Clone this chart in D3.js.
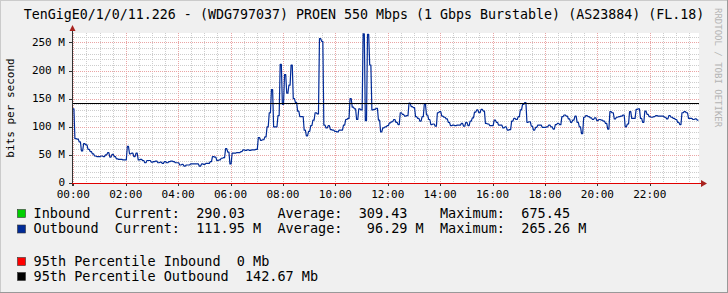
<!DOCTYPE html>
<html>
<head>
<meta charset="utf-8">
<script src="https://cdn.jsdelivr.net/npm/d3@7"></script>
<style>
html, body { margin: 0; padding: 0; background: #f0f0f0; }
svg { display: block; font-family: "DejaVu Sans Mono", monospace; }
text { white-space: pre; }
</style>
</head>
<body>
<div class="chart"></div>
<script>
// outbound traffic in Mbit/s, one value every 5 minutes starting 00:00
const stepMinutes = 5;
const outboundNight = [132, 79, 78, 73, 57, 70, 68, 60, 56, 52, 48, 47, 47, 48, 47, 50, 54, 46, 51, 47, 43, 42, 42, 41,
    41, 65, 52, 53, 47, 53, 41, 42, 40, 36, 40, 40, 37, 38, 39, 36, 37, 35, 38, 36, 38, 39, 38, 36];
const outboundMorning = [36, 32, 33, 30, 32, 32, 34, 34, 34, 34, 30, 34, 33, 35, 35, 38, 47, 46, 40, 41, 44, 45, 61, 55,
    34, 53, 53, 54, 54, 56, 59, 58, 59, 58, 59, 59, 60, 81, 76, 77, 82, 100, 125, 166, 100, 100, 120, 211];
const outboundMidday = [140, 193, 160, 174, 210, 150, 143, 128, 118, 118, 94, 84, 92, 102, 112, 125, 123, 257, 252, 103, 98, 102, 95, 94,
    92, 91, 94, 94, 103, 113, 115, 150, 135, 132, 113, 132, 130, 265.26, 111, 264.5, 210, 130, 131, 133, 112, 91, 98, 100];
const outboundAfternoon = [102, 107, 109, 113, 108, 104, 125, 122, 119, 120, 142, 136, 134, 118, 115, 110, 118, 140, 121, 113, 104, 105, 101, 125,
    127, 119, 117, 114, 108, 102, 103, 102, 103, 103, 106, 101, 108, 102, 110, 116, 126, 130, 125, 131, 128, 106, 105, 102];
const outboundEvening = [102, 112, 108, 103, 103, 98, 100, 94, 95, 110, 115, 113, 118, 130, 140, 143, 108, 109, 101, 94, 99, 103, 103, 99,
    99, 100, 103, 100, 96, 104, 106, 104, 118, 121, 119, 114, 108, 112, 119, 108, 100, 88, 117, 120, 118, 116, 113, 116];
const outboundLate = [111, 113, 112, 110, 106, 96, 127, 125, 114, 117, 118, 119, 121, 100, 105, 127, 115, 115, 131, 132, 115, 108, 128, 122,
    118, 117, 118, 120, 119, 119, 119, 117, 114, 120, 117, 115, 113, 108, 104, 125, 127, 125, 115, 115, 113, 114, 111.95];

const percentileInbound = 0;
const percentileOutbound = 142.67;

const yTicks = [0, 50, 100, 150, 200, 250];
const yTickLabels = ["0", "50 M", "100 M", "150 M", "200 M", "250 M"];
const xTickHours = [0, 2, 4, 6, 8, 10, 12, 14, 16, 18, 20, 22];

const inboundStats = ["290.03", "309.43", "675.45"];
const outboundStats = ["111.95 M", "96.29 M", "265.26 M"];

const title = "TenGigE0/1/0/11.226 - (WDG797037) PROEN 550 Mbps (1 Gbps Burstable) (AS23884) (FL.18)";

const width = 728, height = 293;
const plot = { left: 72, right: 699, top: 33, bottom: 183 };

const outbound = [].concat(outboundNight, outboundMorning, outboundMidday, outboundAfternoon, outboundEvening, outboundLate)
    .map((v, i) => ({ t: i * stepMinutes, v: v }));

const x = d3.scaleLinear().domain([-3, 1437]).range([72, 700.9]);
const y = d3.scaleLinear().domain([0, 266.9]).range([plot.bottom, plot.top]);

const svg = d3.select(".chart").append("svg")
    .attr("width", width)
    .attr("height", height);

// background + 3d frame
svg.append("rect").attr("width", width).attr("height", height).attr("fill", "#f0f0f0");
svg.append("path").attr("d", `M0,${height} V0 H${width}`).attr("fill", "none").attr("stroke", "#cbcbcb").attr("stroke-width", 2);
svg.append("path").attr("d", `M${width},0 V${height} H0`).attr("fill", "none").attr("stroke", "#999").attr("stroke-width", 2);

svg.append("rect")
    .attr("x", plot.left).attr("y", plot.top)
    .attr("width", plot.right - plot.left).attr("height", plot.bottom - plot.top)
    .attr("fill", "#fff");

const grid = svg.append("g").attr("shape-rendering", "crispEdges");

// minor grid
const minorX = d3.range(30, 1440, 30).filter(m => m % 120 !== 0);
grid.selectAll(".vminor").data(minorX).enter().append("line")
    .attr("x1", d => Math.round(x(d)) + 0.5).attr("x2", d => Math.round(x(d)) + 0.5)
    .attr("y1", plot.top).attr("y2", plot.bottom)
    .attr("stroke", "#cdcdcd").attr("stroke-dasharray", "1,1");
const minorY = d3.range(10, 266, 10).filter(v => v % 50 !== 0);
grid.selectAll(".hminor").data(minorY).enter().append("line")
    .attr("x1", plot.left).attr("x2", plot.right)
    .attr("y1", d => Math.round(y(d)) + 0.5).attr("y2", d => Math.round(y(d)) + 0.5)
    .attr("stroke", "#cdcdcd").attr("stroke-dasharray", "1,1");

// major grid
grid.selectAll(".vmajor").data(xTickHours).enter().append("line")
    .attr("x1", d => Math.round(x(d * 60)) + 0.5).attr("x2", d => Math.round(x(d * 60)) + 0.5)
    .attr("y1", plot.top).attr("y2", plot.bottom)
    .attr("stroke", "#eaa5a5").attr("stroke-dasharray", "1,1");
grid.selectAll(".hmajor").data(yTicks.slice(1)).enter().append("line")
    .attr("x1", plot.left).attr("x2", plot.right)
    .attr("y1", d => Math.round(y(d)) + 0.5).attr("y2", d => Math.round(y(d)) + 0.5)
    .attr("stroke", "#eaa5a5").attr("stroke-dasharray", "1,1");

// outbound line: each 5-minute sample holds for most of its slot, like rrdtool's per-pixel drawing
const half = stepMinutes * 0.27;
const line = d3.line()
    .x(d => x(d.t))
    .y(d => y(d.v));
svg.append("path")
    .datum(outbound.flatMap(d => [{ t: d.t - half, v: d.v }, { t: d.t + half, v: d.v }]))
    .attr("fill", "none")
    .attr("stroke", "#002a97")
    .attr("stroke-width", 1.2)
    .attr("stroke-linejoin", "round")
    .attr("d", line);

// 95th percentile outbound
svg.append("line")
    .attr("x1", plot.left).attr("x2", plot.right)
    .attr("y1", Math.round(y(percentileOutbound)) + 0.5).attr("y2", Math.round(y(percentileOutbound)) + 0.5)
    .attr("stroke", "#000").attr("shape-rendering", "crispEdges");

// axes
const axisG = svg.append("g").attr("shape-rendering", "crispEdges").attr("stroke", "#333");
axisG.append("line").attr("x1", plot.left + 0.5).attr("x2", plot.left + 0.5).attr("y1", plot.bottom + 3).attr("y2", 29);
axisG.append("line").attr("x1", plot.left - 3).attr("x2", 703).attr("y1", plot.bottom + 0.5).attr("y2", plot.bottom + 0.5);
axisG.selectAll(".ytick").data(yTicks).enter().append("line")
    .attr("x1", plot.left - 3).attr("x2", plot.left)
    .attr("y1", d => Math.round(y(d)) + 0.5).attr("y2", d => Math.round(y(d)) + 0.5);
axisG.selectAll(".xtick").data(xTickHours).enter().append("line")
    .attr("x1", d => Math.round(x(d * 60)) + 0.5).attr("x2", d => Math.round(x(d * 60)) + 0.5)
    .attr("y1", plot.bottom).attr("y2", plot.bottom + 3);

// 95th percentile inbound (sits on the zero line)
svg.append("line")
    .attr("x1", plot.left).attr("x2", 703)
    .attr("y1", Math.round(y(percentileInbound)) + 0.5).attr("y2", Math.round(y(percentileInbound)) + 0.5)
    .attr("stroke", "#e00000").attr("shape-rendering", "crispEdges");

svg.append("path").attr("d", `M${plot.left - 2.5},31 L${plot.left + 0.5},25 L${plot.left + 3.5},31 Z`).attr("fill", "#a8231f");
svg.append("path").attr("d", `M701,180 L707,183.5 L701,187 Z`).attr("fill", "#a8231f");

// tick labels
svg.selectAll(".ylab").data(yTicks).enter().append("text")
    .attr("x", 65).attr("y", d => y(d))
    .attr("dy", "0.3em")
    .attr("text-anchor", "end")
    .attr("font-size", 11)
    .text((d, i) => yTickLabels[i]);

svg.selectAll(".xlab").data(xTickHours).enter().append("text")
    .attr("x", d => x(d * 60)).attr("y", 198)
    .attr("text-anchor", "middle")
    .attr("font-size", 11)
    .text(d => d3.format("02")(d) + ":00");

svg.append("text")
    .attr("transform", "translate(14,108) rotate(-90)")
    .attr("text-anchor", "middle")
    .attr("font-size", 11)
    .text("bits per second");

svg.append("text")
    .attr("x", width / 2).attr("y", 18.5)
    .attr("text-anchor", "middle")
    .attr("font-size", 13.3)
    .text(title);

svg.append("text")
    .attr("transform", "translate(715,8) rotate(90)")
    .attr("font-size", 9)
    .attr("fill", "#b4b4b4")
    .text("RRDTOOL / TOBI OETIKER");

// legend
const pad = (s, n) => s.padStart(n, " ");
const legend = [
    { color: "#00cf00", base: 217.5, text: "Inbound   Current:" + pad(inboundStats[0], 8) + "    Average:" + pad(inboundStats[1], 8) + "    Maximum:" + pad(inboundStats[2], 8) },
    { color: "#002a97", base: 233, text: "Outbound  Current:" + pad(outboundStats[0], 10) + "  Average:" + pad(outboundStats[1], 10) + "  Maximum:" + pad(outboundStats[2], 10) },
    { color: "#ff0000", base: 265.5, text: "95th Percentile Inbound  " + percentileInbound + " Mb" },
    { color: "#000000", base: 280.5, text: "95th Percentile Outbound  " + percentileOutbound + " Mb" }
];
const lg = svg.selectAll(".legend").data(legend).enter().append("g");
lg.append("rect")
    .attr("x", 17.5).attr("y", d => d.base - 8)
    .attr("width", 8).attr("height", 8)
    .attr("fill", d => d.color)
    .attr("stroke", "#333").attr("stroke-width", 0.6);
lg.append("text")
    .attr("x", 33.6).attr("y", d => d.base)
    .attr("font-size", 13.5)
    .text(d => d.text);
</script>
</body>
</html>
